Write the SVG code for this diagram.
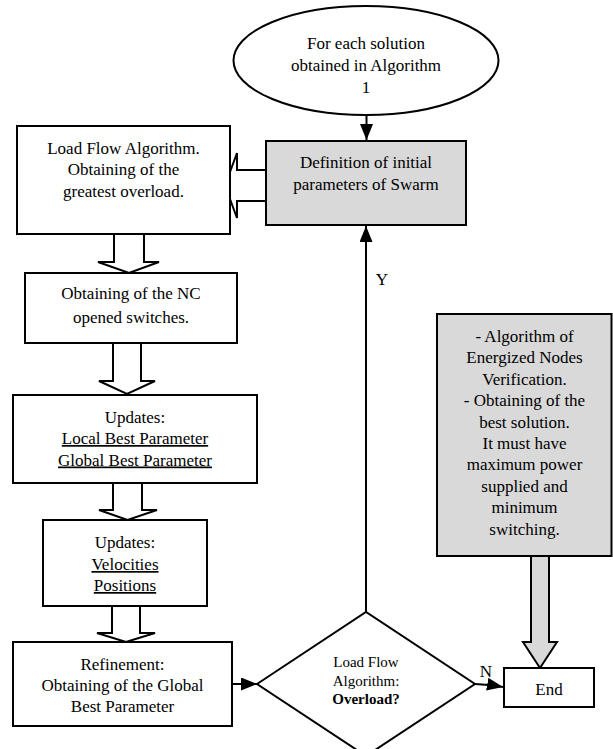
<svg xmlns="http://www.w3.org/2000/svg" width="613" height="749" viewBox="0 0 613 749">
<style>
.box{fill:#fff;stroke:#000;stroke-width:2}
.gray{fill:#d9d9d9;stroke:#000;stroke-width:2}
.hollow{fill:#fff;stroke:#000;stroke-width:2;stroke-linejoin:miter}
.hgray{fill:#d9d9d9;stroke:#000;stroke-width:2}
.conn{fill:none;stroke:#000;stroke-width:2}
text{font-family:'Liberation Serif','Tinos','DejaVu Serif',serif;font-size:17px;fill:#000;text-anchor:middle}
.small{font-size:15px}
.u{text-decoration:underline}
</style>
<defs>
<marker id="ah" markerUnits="userSpaceOnUse" markerWidth="16" markerHeight="13" refX="16" refY="6.5" orient="auto">
<path d="M0,0 L16,6.5 L0,13 z" fill="#000"/>
</marker>
</defs>
<g id="connectors">
<line class="conn" x1="366.5" y1="115" x2="366.5" y2="140" marker-end="url(#ah)"/>
<line class="conn" x1="366" y1="612" x2="366" y2="226" marker-end="url(#ah)"/>
<line class="conn" x1="232" y1="684" x2="257" y2="684" marker-end="url(#ah)"/>
<path class="conn" d="M475,684 Q489,684.5 503,687" marker-end="url(#ah)"/>
<polygon class="hollow" points="266,170 237,170 237,153 225,185.5 237,218 237,201 266,201"/>
<polygon class="hollow" points="114,234 144,234 144,262 159,262 129,273 98,262 114,262"/>
<polygon class="hollow" points="113,343 141,343 141,381 155,381 127,394 99,381 113,381"/>
<polygon class="hollow" points="113,483 142,483 142,510 157,510 127.5,520 99,510 113,510"/>
<polygon class="hollow" points="112,606 140,606 140,633 155,633 126,642 97,633 112,633"/>
<polygon class="hgray" points="531,556 549,556 549,642 557,642 540,668 523,642 531,642"/>
<text x="382" y="285">Y</text>
<text x="486" y="677">N</text>
</g>
<g id="start">
<ellipse class="box" cx="366" cy="60.5" rx="132.5" ry="54.5"/>
<text x="366" y="49">For each solution</text>
<text x="366" y="71">obtained in Algorithm</text>
<text x="366" y="93">1</text>
</g>
<g id="definition">
<rect class="gray" x="266" y="141" width="200" height="84"/>
<text x="366" y="168">Definition of initial</text>
<text x="366" y="190">parameters of Swarm</text>
</g>
<g id="loadflow">
<rect class="box" x="17" y="126" width="213" height="108"/>
<text x="123.5" y="154">Load Flow Algorithm.</text>
<text x="123.5" y="175">Obtaining of the</text>
<text x="123.5" y="196.5">greatest overload.</text>
</g>
<g id="nc">
<rect class="box" x="25" y="273" width="212" height="70"/>
<text x="131" y="299">Obtaining of the NC</text>
<text x="131" y="323">opened switches.</text>
</g>
<g id="updates1">
<rect class="box" x="13" y="395" width="244" height="88"/>
<text x="135" y="423">Updates:</text>
<text class="u" x="135" y="444">Local Best Parameter</text>
<text class="u" x="135" y="465.5">Global Best Parameter</text>
</g>
<g id="updates2">
<rect class="box" x="43" y="520" width="164" height="86"/>
<text x="125" y="548">Updates:</text>
<text class="u" x="125" y="570">Velocities</text>
<text class="u" x="125" y="591">Positions</text>
</g>
<g id="refinement">
<rect class="box" x="13" y="642" width="219" height="84"/>
<text x="122.5" y="670">Refinement:</text>
<text x="122.5" y="691">Obtaining of the Global</text>
<text x="122.5" y="712">Best Parameter</text>
</g>
<g id="decision">
<polygon class="box" points="257,684 366,612 475,684 366,756"/>
<text class="small" x="366" y="667">Load Flow</text>
<text class="small" x="366" y="686">Algorithm:</text>
<text class="small" x="366" y="704" font-weight="bold">Overload?</text>
</g>
<g id="verification">
<rect class="gray" x="437" y="314" width="174.5" height="242"/>
<text x="524.5" y="341.5">- Algorithm of</text>
<text x="524.5" y="363">Energized Nodes</text>
<text x="524.5" y="384.5">Verification.</text>
<text x="524.5" y="406">- Obtaining of the</text>
<text x="524.5" y="427.5">best solution.</text>
<text x="524.5" y="449">It must have</text>
<text x="524.5" y="470">maximum power</text>
<text x="524.5" y="491.5">supplied and</text>
<text x="524.5" y="513">minimum</text>
<text x="524.5" y="535">switching.</text>
</g>
<g id="end">
<rect class="box" x="504" y="668" width="90" height="39"/>
<text x="549" y="695">End</text>
</g>
</svg>
